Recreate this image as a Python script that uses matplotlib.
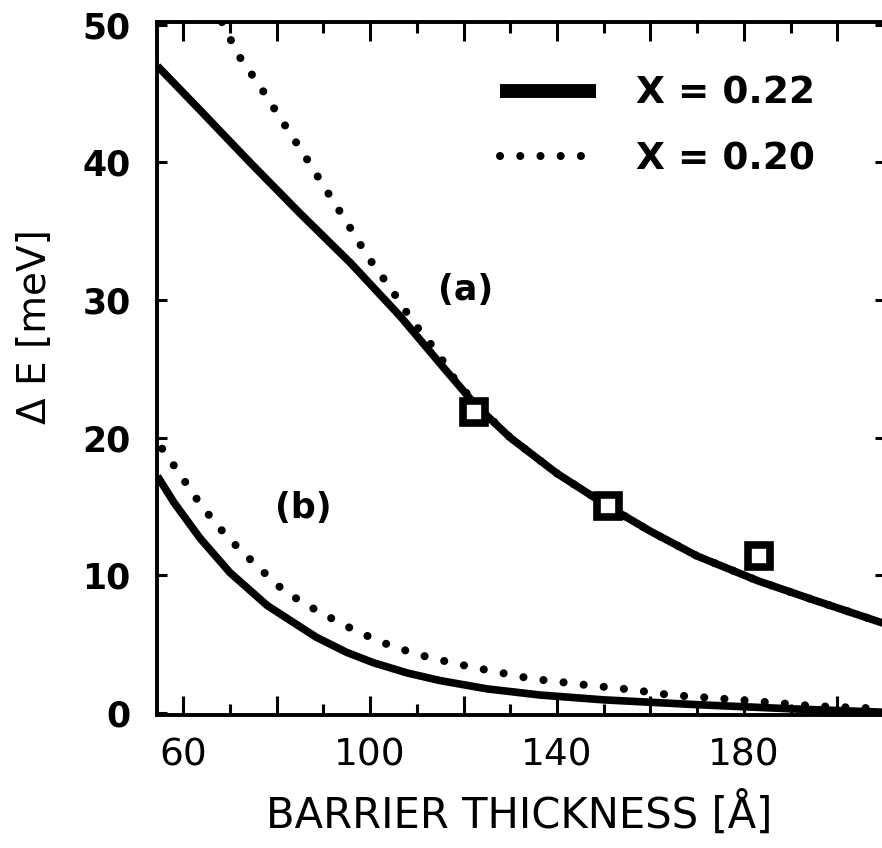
import matplotlib
matplotlib.use("Agg")
import matplotlib.pyplot as plt
from matplotlib.lines import Line2D
from matplotlib.ticker import FixedLocator, FuncFormatter

# ---- data ----
xa_solid = [54.5, 63.6, 74.3, 85.0, 95.8, 106.5, 115.7, 122.5, 130.0, 140.0, 151.0, 160.0, 170.0, 183.0, 195.0, 210.0]
ya_solid = [47.0, 43.8, 40.0, 36.3, 32.7, 28.8, 25.1, 22.4, 20.0, 17.4, 15.0, 13.2, 11.4, 9.6, 8.2, 6.5]

xa_dot = [68.3, 71.8, 76.5, 81.2, 86.0, 90.4, 95.1, 99.6, 104.5, 109.2, 114.4, 118.0, 122.5, 130.0, 140.0, 151.0, 160.0, 170.0, 183.0, 195.0, 210.0]
ya_dot = [50.2, 47.8, 45.5, 43.0, 40.5, 38.1, 35.6, 33.1, 30.8, 28.4, 26.2, 24.3, 22.5, 20.0, 17.4, 15.0, 13.2, 11.4, 9.6, 8.2, 6.5]

xb_solid = [54.5, 58.0, 63.6, 70.0, 78.0, 88.5, 95.0, 100.7, 108.0, 115.0, 125.0, 136.4, 150.0, 170.0, 190.0, 210.0]
yb_solid = [17.2, 15.3, 12.7, 10.2, 7.8, 5.5, 4.4, 3.65, 2.9, 2.35, 1.75, 1.3, 0.95, 0.6, 0.3, 0.05]

xb_dot = [55.5, 59.4, 64.0, 69.4, 75.4, 81.8, 89.3, 97.3, 105.0, 112.9, 121.5, 134.3, 147.0, 155.7, 164.3, 172.8, 180.8, 195.0, 210.0]
yb_dot = [19.2, 17.3, 15.0, 12.8, 10.8, 8.8, 7.3, 5.9, 4.8, 4.0, 3.35, 2.5, 2.0, 1.7, 1.3, 1.1, 0.9, 0.5, 0.3]

x_exp = [122.3, 151.0, 183.3]
y_exp = [21.9, 15.0, 11.4]

legend_labels = ["X = 0.22", "X = 0.20"]
x_major = [60, 80, 100, 120, 140, 160, 180, 200]
x_minor = [50, 70, 90, 110, 130, 150, 170, 190, 210]
x_labeled = [60, 100, 140, 180]
y_major = [0, 10, 20, 30, 40, 50]

# ---- figure ----
W, H = 882, 848
fig = plt.figure(figsize=(W / 100, H / 100), dpi=100)
left, right, top, bottom = 157, 885, 22, 715
ax = fig.add_axes([left / W, 1 - bottom / H, (right - left) / W, (bottom - top) / H])

dot_style = dict(color="black", lw=5.8, linestyle=(0, (0.01, 2.5)),
                 dash_capstyle="round", solid_capstyle="round")
ax.plot(xa_dot, ya_dot, **dot_style)
ax.plot(xb_dot, yb_dot, **dot_style)
ax.plot(xa_solid, ya_solid, color="black", lw=5.5, solid_capstyle="butt", solid_joinstyle="round")
ax.plot(xb_solid, yb_solid, color="black", lw=5.5, solid_capstyle="butt", solid_joinstyle="round")
ax.plot(x_exp, y_exp, linestyle="none", marker="s", markersize=16,
        markerfacecolor="white", markeredgecolor="black", markeredgewidth=5.5)

ax.set_xlim(54.4, 210.2)
ax.set_ylim(-0.15, 50.2)

for sp in ax.spines.values():
    sp.set_linewidth(2.8)

ax.xaxis.set_major_locator(FixedLocator(x_major))
ax.xaxis.set_minor_locator(FixedLocator(x_minor))
ax.xaxis.set_major_formatter(FuncFormatter(lambda v, p: f"{int(v)}" if int(round(v)) in x_labeled else ""))
ax.yaxis.set_major_locator(FixedLocator(y_major))

ax.tick_params(axis="x", which="major", direction="in", length=14, width=2.2,
               top=True, bottom=True, pad=16, labelsize=27)
ax.tick_params(axis="x", which="minor", direction="in", length=8, width=2.2,
               top=True, bottom=True)
ax.tick_params(axis="y", which="major", direction="in", length=7, width=2.2,
               left=True, right=True, pad=19, labelsize=25)
for lab in ax.get_yticklabels():
    lab.set_fontweight("bold")

ax.set_xlabel("BARRIER THICKNESS [Å]", fontsize=30)
ax.xaxis.set_label_coords(0.498, -0.110)
ax.set_ylabel("Δ E [meV]", fontsize=28)
ax.yaxis.set_label_coords(-0.142, 0.560)

ax.text(120.4, 30.7, "(a)", fontsize=25, fontweight="bold", ha="center", va="center")
ax.text(85.7, 14.9, "(b)", fontsize=25, fontweight="bold", ha="center", va="center")

handles = [Line2D([], [], color="black", lw=10, solid_capstyle="butt"),
           Line2D([], [], **dot_style)]
leg = ax.legend(handles, legend_labels, loc="upper left",
                bbox_to_anchor=(500 / W, 1 - 76 / H), bbox_transform=fig.transFigure,
                frameon=False, handlelength=2.55, handletextpad=1.08, labelspacing=0.78,
                prop={"size": 27, "weight": "bold"}, borderpad=0, borderaxespad=0)

fig.savefig("out.png", dpi=100)
